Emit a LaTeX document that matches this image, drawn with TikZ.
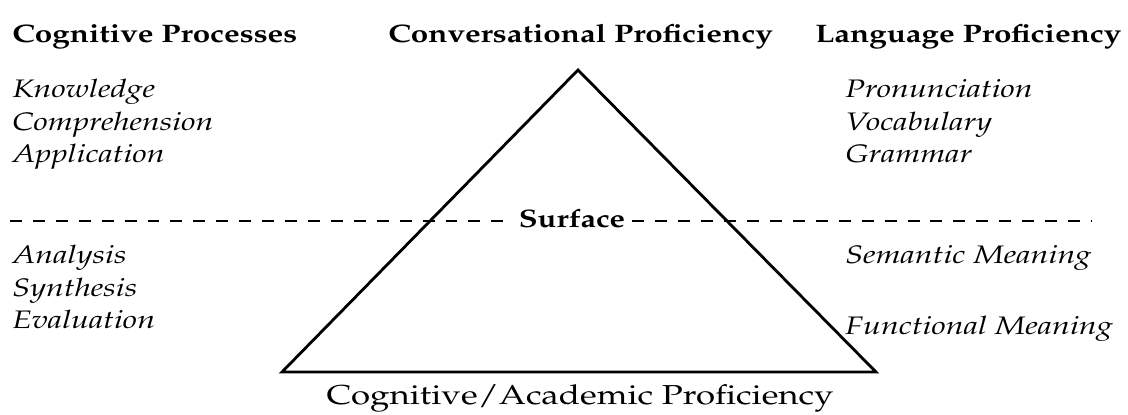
\documentclass[tikz,border=0pt]{standalone}
\usepackage[T1]{fontenc}
\usepackage{mathpazo}
\usetikzlibrary{positioning}

% Palatino set a little wider than usual
\newcommand{\widetext}[2][1.27]{\scalebox{#1}[1]{#2}}

\begin{document}
\begin{tikzpicture}[x=0.025cm, y=-0.025cm,
  heading/.style={font=\fontsize{18}{22}\selectfont\bfseries, inner sep=0pt, anchor=base west},
  entry/.style={font=\fontsize{18}{22}\selectfont\itshape, inner sep=0pt, text height=0.58cm, text depth=0.22cm, anchor=north west},
  dashline/.style={dashed, dash pattern=on 8.5pt off 7.8pt, line width=1.1pt}]

  \useasboundingbox (0,0) rectangle (1128,414);

  % column headings
  \node[heading] (cogproc) at (12,42) {\widetext[1.24]{Cognitive Processes}};
  \node[heading] (convprof) at (388,42) {\widetext[1.24]{Conversational Proficiency}};
  \node[heading] (langprof) at (815,42) {\widetext[1.24]{Language Proficiency}};

  % left column
  \node[entry] (know) at (12,74) {\widetext{Knowledge}};
  \node[below=0pt of know.south west, entry] (comp) {\widetext{Comprehension}};
  \node[below=0pt of comp.south west, entry] (appl) {\widetext{Application}};
  \node[entry] (anal) at (12,240) {\widetext{Analysis}};
  \node[below=0pt of anal.south west, entry] (synth) {\widetext{Synthesis}};
  \node[below=0pt of synth.south west, entry] (evalu) {\widetext{Evaluation}};

  % right column
  \node[entry] (pron) at (845,74) {\widetext{Pronunciation}};
  \node[below=0pt of pron.south west, entry] (vocab) {\widetext{Vocabulary}};
  \node[below=0pt of vocab.south west, entry] (gram) {\widetext{Grammar}};
  \node[entry] (sem) at (845,240) {\widetext{Semantic Meaning}};
  \node[below=0.95cm of sem.south west, entry] (func) {\widetext{Functional Meaning}};

  % the triangle
  \coordinate (apex) at (578,70);
  \coordinate (lcorner) at (282,372);
  \coordinate (rcorner) at (876,372);
  \draw[line width=2pt] (apex) -- (lcorner) -- (rcorner) -- cycle;

  % surface line
  \node[font=\fontsize{18}{22}\selectfont\bfseries, inner sep=5pt] (surface) at (572,218) {\widetext[1.22]{Surface}};
  \coordinate (dashl) at (10,221);
  \coordinate (dashr) at (1092,221);
  \draw[dashline] (dashl) -- (dashl -| surface.west);
  \draw[dashline] (dashr -| surface.east) -- (dashr);

  \node[font=\fontsize{19.5}{23}\selectfont, inner sep=0pt, anchor=base] (cogacad) at (580,404) {\widetext{Cognitive/Academic Proficiency}};
\end{tikzpicture}
\end{document}
